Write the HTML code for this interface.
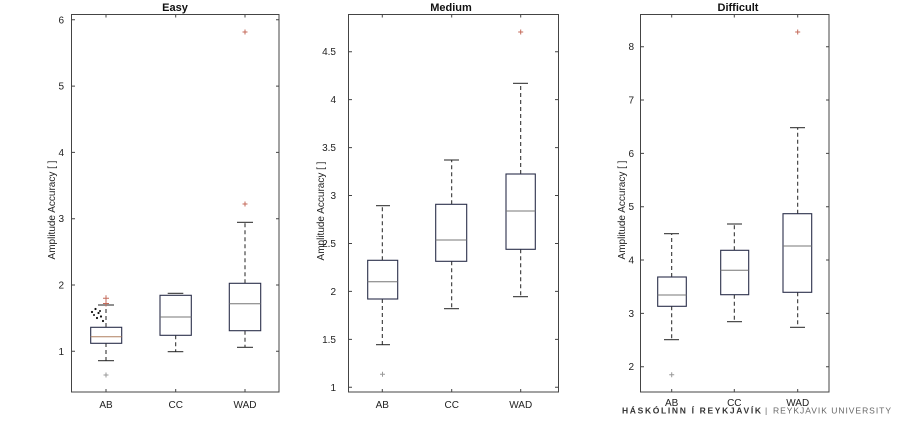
<!DOCTYPE html>
<html><head><meta charset="utf-8"><style>
html,body{margin:0;padding:0;background:#fff;}
svg{display:block;}
text{font-family:"Liberation Sans",sans-serif;fill:#222;}
.t{font-size:10px;}
.yl{font-size:10px;}
.ti{font-size:11px;font-weight:bold;fill:#111;}
.ax{stroke:#444;stroke-width:1;fill:none;}
.box{stroke:#2a2f4a;stroke-width:1.1;fill:none;}
.med{stroke:#777;stroke-width:1;}
.wh{stroke:#222;stroke-width:1;stroke-dasharray:4,3;}
.cap{stroke:#222;stroke-width:1;}
.out{stroke:#c46a5a;stroke-width:1;}
.outg{stroke:#999;stroke-width:1;}
</style></head><body>
<svg width="900" height="422" viewBox="0 0 900 422" xmlns="http://www.w3.org/2000/svg">
<!-- ================= EASY ================= -->
<text class="ti" x="175" y="11" text-anchor="middle">Easy</text>
<rect class="ax" x="71.5" y="14.5" width="207.5" height="377.5"/>
<!-- y ticks -->
<g class="ax">
<path d="M72 351.3h3M72 285h3M72 218.7h3M72 152.4h3M72 86.1h3M72 19.8h3"/>
<path d="M279 351.3h-3M279 285h-3M279 218.7h-3M279 152.4h-3M279 86.1h-3M279 19.8h-3"/>
<path d="M106 392v-3M175.7 392v-3M245 392v-3M106 14.5v3M175.7 14.5v3M245 14.5v3"/>
</g>
<g class="t" text-anchor="end">
<text x="64" y="354.8">1</text><text x="64" y="288.5">2</text><text x="64" y="222.2">3</text>
<text x="64" y="155.9">4</text><text x="64" y="89.6">5</text><text x="64" y="23.3">6</text>
</g>
<text class="yl" transform="translate(55,210) rotate(-90)" text-anchor="middle">Amplitude Accuracy [ ]</text>
<g class="t" text-anchor="middle">
<text x="106" y="408">AB</text><text x="175.7" y="408">CC</text><text x="245" y="408">WAD</text>
</g>
<!-- AB -->
<line class="wh" x1="106" y1="327" x2="106" y2="305"/>
<line class="wh" x1="106" y1="343" x2="106" y2="361"/>
<line class="cap" x1="98" y1="305" x2="114" y2="305"/>
<line class="cap" x1="98" y1="360.7" x2="114" y2="360.7"/>
<rect class="box" x="90.7" y="327.3" width="31" height="16"/>
<line class="med" x1="90.7" y1="336.7" x2="121.7" y2="336.7" style="stroke:#b08060"/>
<path class="out" d="M103 298.3h6M106 295.3v6M103 303.5h6M106 300.5v6"/>
<path class="outg" d="M103.5 375h5M106 372.5v5"/>
<g fill="#111">
<circle cx="92" cy="312" r="1.1"/><circle cx="95.5" cy="309" r="1.1"/><circle cx="98.5" cy="313" r="1.1"/>
<circle cx="101" cy="316.5" r="1.1"/><circle cx="97" cy="318" r="1.1"/><circle cx="103" cy="321" r="1.1"/>
<circle cx="100" cy="311" r="1"/><circle cx="94" cy="315" r="1"/>
</g>
<!-- CC -->
<line class="wh" x1="175.7" y1="335.3" x2="175.7" y2="351.7"/>
<line class="cap" x1="167.7" y1="351.7" x2="183.3" y2="351.7"/>
<line class="cap" x1="167.7" y1="293.3" x2="183.3" y2="293.3"/>
<rect class="box" x="160" y="295.3" width="31.3" height="40"/>
<line class="med" x1="160" y1="317" x2="191.3" y2="317"/>
<!-- WAD -->
<line class="wh" x1="245" y1="283.3" x2="245" y2="222.3"/>
<line class="wh" x1="245" y1="330.7" x2="245" y2="347.3"/>
<line class="cap" x1="237" y1="222.3" x2="253" y2="222.3"/>
<line class="cap" x1="237" y1="347.3" x2="253" y2="347.3"/>
<rect class="box" x="229.3" y="283.3" width="31.4" height="47.4"/>
<line class="med" x1="229.3" y1="303.7" x2="260.7" y2="303.7"/>
<path class="out" d="M242.5 204h5M245 201.5v5M242.5 32h5M245 29.5v5"/>

<!-- ================= MEDIUM ================= -->
<text class="ti" x="451" y="11" text-anchor="middle">Medium</text>
<rect class="ax" x="348.5" y="14.5" width="210" height="377.5"/>
<g class="ax">
<path d="M349 387.3h3M349 339.4h3M349 291.4h3M349 243.5h3M349 195.5h3M349 147.6h3M349 99.6h3M349 51.7h3"/>
<path d="M558 387.3h-3M558 339.4h-3M558 291.4h-3M558 243.5h-3M558 195.5h-3M558 147.6h-3M558 99.6h-3M558 51.7h-3"/>
<path d="M382.3 392v-3M451.7 392v-3M520.7 392v-3M382.3 14.5v3M451.7 14.5v3M520.7 14.5v3"/>
</g>
<g class="t" text-anchor="end">
<text x="336" y="390.8">1</text><text x="336" y="342.9">1.5</text><text x="336" y="294.9">2</text>
<text x="336" y="247">2.5</text><text x="336" y="199">3</text><text x="336" y="151.1">3.5</text>
<text x="336" y="103.1">4</text><text x="336" y="55.2">4.5</text>
</g>
<text class="yl" transform="translate(324,211) rotate(-90)" text-anchor="middle">Amplitude Accuracy [ ]</text>
<g class="t" text-anchor="middle">
<text x="382.3" y="408">AB</text><text x="451.7" y="408">CC</text><text x="520.7" y="408">WAD</text>
</g>
<!-- AB -->
<line class="wh" x1="382.3" y1="260.3" x2="382.3" y2="205.7"/>
<line class="wh" x1="382.3" y1="299" x2="382.3" y2="344.7"/>
<line class="cap" x1="376" y1="205.7" x2="390" y2="205.7"/>
<line class="cap" x1="376" y1="344.7" x2="390" y2="344.7"/>
<rect class="box" x="367.7" y="260.3" width="30" height="38.7"/>
<line class="med" x1="367.7" y1="281.7" x2="397.7" y2="281.7"/>
<path class="outg" d="M380 374.3h5M382.5 371.8v5"/>
<!-- CC -->
<line class="wh" x1="451.7" y1="204.3" x2="451.7" y2="160"/>
<line class="wh" x1="451.7" y1="261.3" x2="451.7" y2="308.7"/>
<line class="cap" x1="444" y1="160" x2="459" y2="160"/>
<line class="cap" x1="444" y1="308.7" x2="459" y2="308.7"/>
<rect class="box" x="435.7" y="204.3" width="31" height="57"/>
<line class="med" x1="435.7" y1="240" x2="466.7" y2="240"/>
<!-- WAD -->
<line class="wh" x1="520.7" y1="174" x2="520.7" y2="83.3"/>
<line class="wh" x1="520.7" y1="249.3" x2="520.7" y2="296.7"/>
<line class="cap" x1="513" y1="83.3" x2="528" y2="83.3"/>
<line class="cap" x1="513" y1="296.7" x2="528" y2="296.7"/>
<rect class="box" x="506" y="174" width="29.3" height="75.3"/>
<line class="med" x1="506" y1="211" x2="535.3" y2="211"/>
<path class="out" d="M518.2 32h5M520.7 29.5v5"/>

<!-- ================= DIFFICULT ================= -->
<text class="ti" x="738" y="11" text-anchor="middle">Difficult</text>
<rect class="ax" x="640.5" y="14.5" width="188.5" height="377.5"/>
<g class="ax">
<path d="M641 366.7h3M641 313.4h3M641 260h3M641 206.7h3M641 153.4h3M641 100h3M641 46.7h3"/>
<path d="M829 366.7h-3M829 313.4h-3M829 260h-3M829 206.7h-3M829 153.4h-3M829 100h-3M829 46.7h-3"/>
<path d="M671.7 392v-3M734.3 392v-3M797.7 392v-3M671.7 14.5v3M734.3 14.5v3M797.7 14.5v3"/>
</g>
<g class="t" text-anchor="end">
<text x="634" y="370.2">2</text><text x="634" y="316.9">3</text><text x="634" y="263.5">4</text>
<text x="634" y="210.2">5</text><text x="634" y="156.9">6</text><text x="634" y="103.5">7</text>
<text x="634" y="50.2">8</text>
</g>
<text class="yl" transform="translate(625,210) rotate(-90)" text-anchor="middle">Amplitude Accuracy [ ]</text>
<g class="t" text-anchor="middle">
<text x="671.7" y="406">AB</text><text x="734.3" y="406">CC</text><text x="797.7" y="406">WAD</text>
</g>
<!-- AB -->
<line class="wh" x1="671.7" y1="277" x2="671.7" y2="233.7"/>
<line class="wh" x1="671.7" y1="306.3" x2="671.7" y2="339.7"/>
<line class="cap" x1="664" y1="233.7" x2="679" y2="233.7"/>
<line class="cap" x1="664" y1="339.7" x2="679" y2="339.7"/>
<rect class="box" x="657.7" y="277" width="28.6" height="29.3"/>
<line class="med" x1="657.7" y1="295" x2="686.3" y2="295"/>
<path class="outg" d="M669.2 374.7h5M671.7 372.2v5"/>
<!-- CC -->
<line class="wh" x1="734.3" y1="250.3" x2="734.3" y2="224"/>
<line class="wh" x1="734.3" y1="294.7" x2="734.3" y2="321.7"/>
<line class="cap" x1="727" y1="224" x2="742" y2="224"/>
<line class="cap" x1="727" y1="321.7" x2="742" y2="321.7"/>
<rect class="box" x="720.7" y="250.3" width="28" height="44.4"/>
<line class="med" x1="720.7" y1="270.3" x2="748.7" y2="270.3"/>
<!-- WAD -->
<line class="wh" x1="797.7" y1="213.7" x2="797.7" y2="127.7"/>
<line class="wh" x1="797.7" y1="292.3" x2="797.7" y2="327.3"/>
<line class="cap" x1="790" y1="127.7" x2="805" y2="127.7"/>
<line class="cap" x1="790" y1="327.3" x2="805" y2="327.3"/>
<rect class="box" x="783" y="213.7" width="28.7" height="78.6"/>
<line class="med" x1="783" y1="246" x2="811.7" y2="246"/>
<path class="out" d="M795.2 32h5M797.7 29.5v5"/>

<!-- footer -->
<text x="622" y="413.5" style="font-size:8.5px;font-weight:bold;fill:#333" textLength="139" lengthAdjust="spacing">HÁSKÓLINN Í REYKJAVÍK</text>
<text x="765" y="413.5" style="font-size:8.5px;fill:#666">|</text>
<text x="773" y="413.5" style="font-size:8.5px;fill:#666" textLength="118" lengthAdjust="spacing">REYKJAVIK UNIVERSITY</text>
</svg>
</body></html>
